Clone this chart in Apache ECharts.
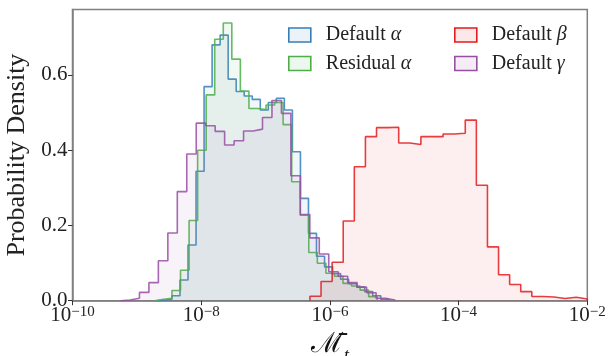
<!DOCTYPE html>
<html><head><meta charset="utf-8">
<script src="https://cdn.jsdelivr.net/npm/echarts@6/dist/echarts.min.js"></script>
<style>html,body{margin:0;padding:0;background:#fff}#c{width:608px;height:356px}</style>
</head><body><div id="c"></div>
<script>
// ---- data ----
const seriesNames = ['Default α', 'Residual α', 'Default β', 'Default γ'];
const xTickExponents = [-10, -8, -6, -4, -2];
const yTickValues = [0, 0.2, 0.4, 0.6];
const xExtentExp = [-10, -2];
const yMax = 0.774;

// histogram bin ranges (log10 of first and last edge; bins are uniform in log space)
const defaultAlphaBinsLog10 = [-8.704, -5.085];
const defaultAlphaDensity = [0.001, 0.004, 0.013, 0.055, 0.148, 0.344, 0.569, 0.680, 0.706, 0.589,
  0.556, 0.544, 0.535, 0.507, 0.527, 0.538, 0.507, 0.396, 0.272, 0.179,
  0.118, 0.090, 0.072, 0.057, 0.045, 0.036, 0.024, 0.013, 0.004];

const residualAlphaBinsLog10 = [-8.72, -5.265];
const residualAlphaDensity = [0.004, 0.0064, 0.027, 0.081, 0.213, 0.400, 0.547, 0.695, 0.738, 0.642,
  0.557, 0.511, 0.508, 0.520, 0.527, 0.468, 0.316, 0.227, 0.128, 0.0995,
  0.073, 0.065, 0.046, 0.039, 0.028, 0.0107];

const defaultBetaBinsLog10 = [-6.31, -2.0];
const defaultBetaDensity = [0.012, 0.051, 0.102, 0.212, 0.356, 0.436, 0.460, 0.461, 0.419, 0.415,
  0.436, 0.436, 0.443, 0.445, 0.480, 0.307, 0.143, 0.069, 0.043, 0.024,
  0.011, 0.010, 0.006, 0.009, 0.0045];

const defaultGammaBinsLog10 = [-9.254, -4.988];
const defaultGammaDensity = [0.002, 0.0064, 0.022, 0.048, 0.106, 0.180, 0.290, 0.390, 0.472, 0.465,
  0.450, 0.414, 0.425, 0.451, 0.456, 0.487, 0.532, 0.498, 0.332, 0.229,
  0.167, 0.124, 0.077, 0.065, 0.048, 0.036, 0.021, 0.0064, 0.002];

// ---- styling ----
const lineColors = ['#377eb8', '#4daf4a', '#e41a1c', '#984ea3'];
const FONT = 'Liberation Serif';

function hexToRgba(hex, a) {
  const n = parseInt(hex.slice(1), 16);
  return 'rgba(' + ((n >> 16) & 255) + ',' + ((n >> 8) & 255) + ',' + (n & 255) + ',' + a + ')';
}
function stepData(range, values) {
  const n = values.length;
  const edge = i => Math.pow(10, range[0] + (range[1] - range[0]) * i / n);
  const pts = [[edge(0), 0]];
  values.forEach((v, i) => pts.push([edge(i), v]));
  pts.push([edge(n), 0]);
  return pts;
}
const hist = [
  [defaultAlphaBinsLog10, defaultAlphaDensity],
  [residualAlphaBinsLog10, residualAlphaDensity],
  [defaultBetaBinsLog10, defaultBetaDensity],
  [defaultGammaBinsLog10, defaultGammaDensity]
];

const series = hist.map((h, i) => ({
  name: seriesNames[i],
  type: 'line',
  step: 'end',
  showSymbol: false,
  symbol: 'none',
  data: stepData(h[0], h[1]),
  lineStyle: { color: lineColors[i], width: 1.6, opacity: 0.85 },
  itemStyle: { color: lineColors[i] },
  areaStyle: { color: hexToRgba(lineColors[i], 0.1), origin: 'start' },
  z: 2 + i
}));

function legendItem(name, i) {
  return { name: name, icon: 'rect',
    itemStyle: { color: hexToRgba(lineColors[i], 0.1), borderColor: lineColors[i], borderWidth: 1.6, opacity: 1 } };
}
const legendText = {
  fontFamily: FONT, fontSize: 20, color: '#222', lineHeight: 22, padding: [0, 0, 0, 10],
  rich: { g: { fontFamily: FONT, fontSize: 20, fontStyle: 'italic', color: '#222' } }
};
const legendFmt = n => n.replace(/([αβγ])/, '{g|$1}');

const chart = echarts.init(document.getElementById('c'), null, { renderer: 'canvas' });
chart.setOption({
  animation: false,
  backgroundColor: '#fff',
  textStyle: { fontFamily: FONT },
  grid: { left: 72.5, right: 20.7, top: 9.5, bottom: 55.3, show: true, borderColor: '#808080', borderWidth: 1.5,
          outerBoundsMode: 'none', containLabel: false },
  legend: [
    { data: [legendItem(seriesNames[0], 0), legendItem(seriesNames[1], 1)], orient: 'vertical',
      left: 288, top: 24, padding: 0, itemWidth: 22, itemHeight: 14, itemGap: 6.5,
      textStyle: legendText, formatter: legendFmt, selectedMode: false },
    { data: [legendItem(seriesNames[2], 2), legendItem(seriesNames[3], 3)], orient: 'vertical',
      left: 454, top: 24, padding: 0, itemWidth: 22, itemHeight: 14, itemGap: 6.5,
      textStyle: legendText, formatter: legendFmt, selectedMode: false }
  ],
  xAxis: {
    type: 'log', logBase: 10,
    min: Math.pow(10, xExtentExp[0]), max: Math.pow(10, xExtentExp[1]),
    name: '{m|\u2133\u0304}{t|t}',
    nameLocation: 'middle', nameGap: 26,
    nameTextStyle: { rich: {
      m: { fontFamily: 'DejaVu Serif', fontSize: 28, color: '#111' },
      t: { fontFamily: FONT, fontSize: 18, fontStyle: 'italic', color: '#111', verticalAlign: 'bottom', padding: [0, 0, -7, 1] }
    } },
    axisLine: { show: true, lineStyle: { color: '#808080', width: 1.5 } },
    axisTick: { show: true, length: 4.5, lineStyle: { color: '#333', width: 1 },
      customValues: xTickExponents.map(e => Math.pow(10, e)) },
    minorTick: { show: false },
    splitLine: { show: false },
    axisLabel: {
      customValues: xTickExponents.map(e => Math.pow(10, e)),
      margin: 4,
      formatter: v => '{b|10}{s|\u2212' + Math.abs(Math.round(Math.log10(v))) + '}',
      rich: {
        b: { fontFamily: FONT, fontSize: 21, color: '#222', verticalAlign: 'bottom' },
        s: { fontFamily: FONT, fontSize: 15, color: '#222', verticalAlign: 'top' }
      }
    }
  },
  yAxis: {
    type: 'value', min: 0, max: yMax,
    name: 'Probability Density', nameLocation: 'middle', nameGap: 40, nameRotate: 90,
    nameTextStyle: { fontFamily: FONT, fontSize: 26, color: '#222' },
    axisLine: { show: true, lineStyle: { color: '#808080', width: 1.5 } },
    axisTick: { show: true, length: 4.5, lineStyle: { color: '#333', width: 1 }, customValues: yTickValues },
    splitLine: { show: false },
    axisLabel: { customValues: yTickValues, margin: 5, fontFamily: FONT, fontSize: 21, color: '#222',
      formatter: v => v.toFixed(1) }
  },
  series: series
});
</script>
</body></html>
